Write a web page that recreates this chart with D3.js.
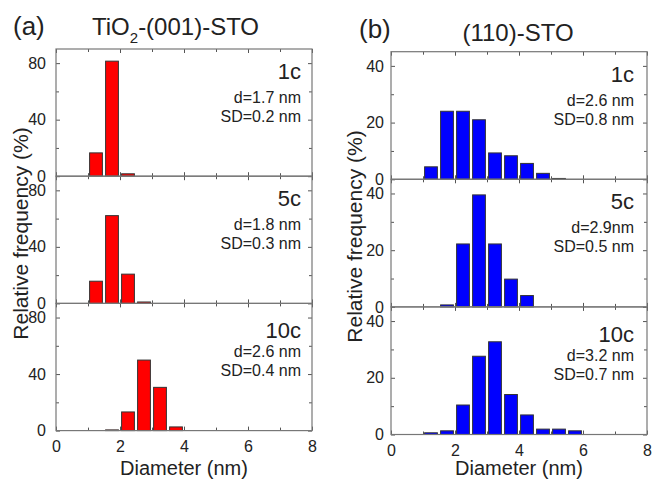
<!DOCTYPE html>
<html>
<head>
<meta charset="utf-8">
<script src="https://cdn.jsdelivr.net/npm/d3@7"></script>
<style>
  body { margin: 0; background: #fff; }
  svg text { font-family: "Liberation Sans", Arial, sans-serif; fill: #222; }
  .tick line { stroke: #555; }
  .tick text { font-size: 16px; fill: #222; }
</style>
</head>
<body>
<div id="chart"></div>
<script>
// bin lower edges (nm), bin width 0.5 nm
const binStarts = [1.0, 1.5, 2.0, 2.5, 3.0, 3.5, 4.0, 4.5, 5.0, 5.5];

// relative frequency (%) per bin
const tio2_1c  = [16.5, 81.4, 1.7, 0, 0, 0, 0, 0, 0, 0];
const tio2_5c  = [15.7, 62.1, 20.7, 1.0, 0, 0, 0, 0, 0, 0];
const tio2_10c = [0, 0.5, 13.2, 49.9, 30.6, 2.6, 0, 0, 0, 0];

const sto110_1c  = [4.4, 24.0, 24.0, 21.0, 9.3, 8.3, 5.6, 2.1, 0.3, 0];
const sto110_5c  = [0, 0.7, 22.2, 39.5, 22.2, 9.8, 4.0, 0, 0, 0];
const sto110_10c = [0.6, 1.3, 10.4, 27.6, 32.7, 14.1, 6.9, 1.9, 1.9, 1.3];

const cycleLabels = ["1c", "5c", "10c"];
const tio2Stats  = [["d=1.7 nm", "SD=0.2 nm"], ["d=1.8 nm", "SD=0.3 nm"], ["d=2.6 nm", "SD=0.4 nm"]];
const sto110Stats = [["d=2.6 nm", "SD=0.8 nm"], ["d=2.9nm", "SD=0.5 nm"], ["d=3.2 nm", "SD=0.7 nm"]];

const xTicksMajor = [0, 2, 4, 6, 8];
const xTicksMinor = [1, 3, 5, 7];

const W = 652, H = 479;
const svg = d3.select("#chart").append("svg")
  .attr("width", W)
  .attr("height", H);

const columns = [
  {
    left: 56, right: 312, top: 49, panelH: 127.2, ymax: 90,
    yMajor: [0, 40, 80], yMinor: [20, 60], color: "#ff0000",
    series: [tio2_1c, tio2_5c, tio2_10c], stats: tio2Stats,
    letter: "(a)", letterX: 13, textPad: 11, labelX: 28
  },
  {
    left: 391, right: 647, top: 51.7, panelH: 127.6, ymax: 45,
    yMajor: [0, 20, 40], yMinor: [10, 30], color: "#0000ff",
    series: [sto110_1c, sto110_5c, sto110_10c], stats: sto110Stats,
    letter: "(b)", letterX: 359, textPad: 13, labelX: 362
  }
];

columns.forEach(function(col, ci) {
  var x = d3.scaleLinear().domain([0, 8]).range([col.left, col.right]);

  col.series.forEach(function(vals, pi) {
    var top = col.top + pi * col.panelH;
    var bottom = top + col.panelH;
    var y = d3.scaleLinear().domain([0, col.ymax]).range([bottom, top]);
    var g = svg.append("g");

    // bars
    var data = binStarts.map((b, i) => ({ b: b, v: vals[i] })).filter(d => d.v > 0);
    g.selectAll("rect.bar").data(data).enter().append("rect")
      .attr("class", "bar")
      .attr("x", d => x(d.b + 0.05))
      .attr("width", d => x(d.b + 0.45) - x(d.b + 0.05))
      .attr("y", d => y(d.v))
      .attr("height", d => y(0) - y(d.v))
      .attr("fill", col.color)
      .attr("stroke", "#333")
      .attr("stroke-width", 1);

    // inward ticks on all four sides
    function addAxis(axis, tx, ty) {
      var a = g.append("g").attr("transform", "translate(" + tx + "," + ty + ")").call(axis);
      a.select(".domain").remove();
      return a;
    }
    var showX = pi === 2;
    addAxis(d3.axisBottom(x).tickValues(xTicksMajor).tickSize(-4).tickPadding(showX ? 10 : 0)
      .tickFormat(showX ? d3.format("d") : ""), 0, bottom);
    addAxis(d3.axisBottom(x).tickValues(xTicksMinor).tickSize(-3).tickFormat(""), 0, bottom);
    addAxis(d3.axisTop(x).tickValues(xTicksMajor).tickSize(-4).tickFormat(""), 0, top);
    addAxis(d3.axisTop(x).tickValues(xTicksMinor).tickSize(-3).tickFormat(""), 0, top);

    addAxis(d3.axisLeft(y).tickValues(col.yMajor).tickSize(-4).tickPadding(ci === 0 ? 10 : 7)
      .tickFormat(d3.format("d")), col.left, 0);
    addAxis(d3.axisLeft(y).tickValues(col.yMinor).tickSize(-3).tickFormat(""), col.left, 0);
    addAxis(d3.axisRight(y).tickValues(col.yMajor).tickSize(-4).tickFormat(""), col.right, 0);
    addAxis(d3.axisRight(y).tickValues(col.yMinor).tickSize(-3).tickFormat(""), col.right, 0);

    // frame
    g.append("rect")
      .attr("x", col.left).attr("y", top)
      .attr("width", col.right - col.left).attr("height", col.panelH)
      .attr("fill", "none").attr("stroke", "#777").attr("stroke-width", 1.2);

    // panel annotations
    var tx = col.right - col.textPad;
    g.append("text").attr("x", tx).attr("y", top + (pi === 2 ? 35 : 30))
      .attr("text-anchor", "end").style("font-size", "22px").text(cycleLabels[pi]);
    g.append("text").attr("x", tx).attr("y", top + 54)
      .attr("text-anchor", "end").style("font-size", "16px").text(col.stats[pi][0]);
    g.append("text").attr("x", tx).attr("y", top + 73)
      .attr("text-anchor", "end").style("font-size", "16px").text(col.stats[pi][1]);
  });

  var fullTop = col.top, fullBottom = col.top + 3 * col.panelH;

  // y label
  svg.append("text")
    .attr("transform", "translate(" + col.labelX + "," + (ci === 0 ? 233.5 : 236.5) + ") rotate(-90)")
    .attr("text-anchor", "middle").style("font-size", "21px")
    .text("Relative frequency (%)");

  // x label
  svg.append("text")
    .attr("x", (col.left + col.right) / 2).attr("y", 475)
    .attr("text-anchor", "middle").style("font-size", "20px")
    .text("Diameter (nm)");

  // panel letter
  svg.append("text").attr("x", col.letterX).attr("y", ci === 0 ? 35 : 38)
    .style("font-size", "26px").text(col.letter);
});

// column titles
var t1 = svg.append("text").attr("x", 92).attr("y", 35).style("font-size", "24px");
t1.append("tspan").text("TiO");
t1.append("tspan").attr("dy", 8).style("font-size", "15px").text("2");
t1.append("tspan").attr("dy", -8).text("-(001)-STO");

svg.append("text").attr("x", 518).attr("y", 41)
  .attr("text-anchor", "middle").style("font-size", "24px").text("(110)-STO");
</script>
</body>
</html>
